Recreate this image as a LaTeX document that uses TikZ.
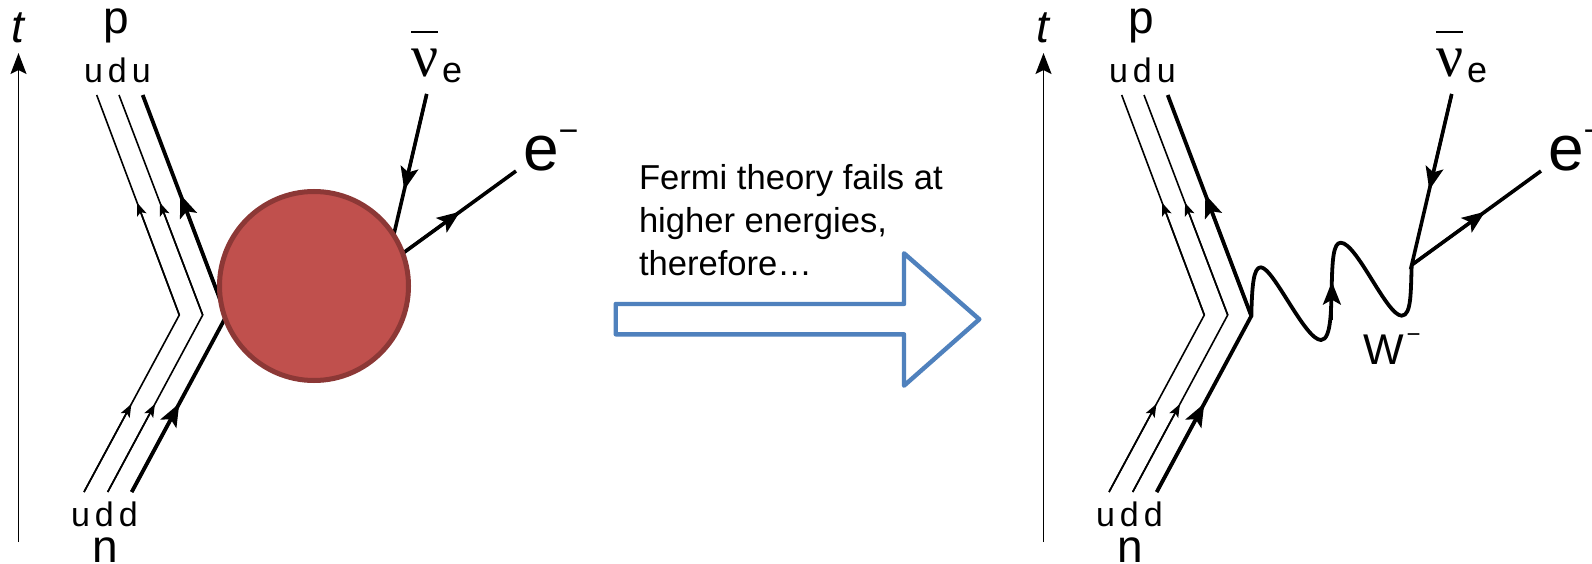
\documentclass[tikz,border=0pt]{standalone}
\usepackage{fontspec}
\setmainfont{Liberation Sans}
\newfontfamily\serifnu{Liberation Serif}
\usetikzlibrary{arrows.meta,calc}
\newcommand{\fs}[1]{\fontsize{#1}{#1}\selectfont}
\newcommand{\supminus}[3]{\raisebox{#2pt}{\fs{#1}#3}}
\definecolor{blockblue}{HTML}{4F81BD}
\definecolor{blobfill}{HTML}{C0504D}
\definecolor{blobedge}{HTML}{8C3836}
\tikzset{
  x=1pt,y=-1pt,
  lbl/.style={inner sep=0pt,outer sep=0pt,anchor=base west,text=black},
  thinq/.style={line width=1.6pt,black},
  thickq/.style={line width=3.8pt,black},
  lep/.style={line width=3.6pt,black},
  tipS/.style={-{Stealth[length=13pt,width=10pt,inset=3pt]},line width=1.6pt,black},
  tipL/.style={-{Stealth[length=23pt,width=18pt,inset=5pt]},line width=3pt,black},
  tipA/.style={-{Stealth[length=21pt,width=16pt,inset=4pt]},line width=1.6pt,black},
}
\newcommand{\feynbase}{%
  \coordinate (tb) at (18.5,542);
  \coordinate (tt) at (18.5,53);
  \draw[tipA] (tb) -- (tt);
  \node[lbl] (tlabel) at (11.5,43) {\fs{46}\itshape t};
  \coordinate (a1) at (84,492);   \coordinate (k1) at (179.3,315); \coordinate (b1) at (96.7,95);
  \coordinate (a2) at (107.7,492);\coordinate (k2) at (202.7,315); \coordinate (b2) at (119,95);
  \coordinate (a3) at (131.7,492);\coordinate (k3) at (226.3,316); \coordinate (b3) at (142.7,95);
  \draw[thinq,line join=miter] (a1) -- (k1) -- (b1);
  \draw[thinq,line join=miter] (a2) -- (k2) -- (b2);
  \draw[thickq,line join=miter] (a3) -- (k3) -- (b3);
  \draw[tipS] (a1) -- ($(a1)!0.497!(k1)$);
  \draw[tipS] (a2) -- ($(a2)!0.497!(k2)$);
  \draw[tipL] (a3) -- ($(a3)!0.503!(k3)$);
  \draw[tipS] (k1) -- ($(k1)!0.51!(b1)$);
  \draw[tipS] (k2) -- ($(k2)!0.51!(b2)$);
  \draw[tipL] (k3) -- ($(k3)!0.55!(b3)$);
  \coordinate (vx) at (386.7,265);
  \coordinate (nutop) at (426.7,94);
  \coordinate (eend) at (516,171);
  \draw[lep] (nutop) -- (vx) -- (eend);
  \draw[tipL] (nutop) -- ($(nutop)!0.561!(vx)$);
  \draw[tipL] (vx) -- ($(vx)!0.567!(eend)$);
  \node[lbl] (plabel) at (103,33.5) {\fs{46}p};
  \node[lbl] (nlabel) at (92.5,562) {\fs{46}n};
  \node[lbl] (udu) at (84,83) {\fs{34}u\kern5pt d\kern5pt u};
  \node[lbl] (udd) at (71,526.7) {\fs{34}u\kern5pt d\kern5pt d};
  \node[lbl] (nulabel) at (411,76.5) {\rlap{\raisebox{43pt}{\rule{27pt}{2pt}}}{\fs{60}\serifnu ν}\raisebox{-6.5pt}{\fs{36}\kern4pt e}};
  \node[lbl] (elabel) at (523,171) {\fs{64}e\supminus{34}{28}{−}};
}
\begin{document}
\begin{tikzpicture}
  \path[use as bounding box,fill=white] (0,0) rectangle (1592,564);
  \clip (0,0) rectangle (1592,564);
  \begin{scope}[name prefix=L-]
    \feynbase
  \end{scope}
  \node[circle,minimum size=189pt,inner sep=0pt,draw=blobedge,fill=blobfill,line width=5pt] (blob) at (314,286) {};
  \begin{scope}[shift={(1025,0)},name prefix=R-]
    \feynbase
  \end{scope}
  \draw[line width=3.8pt,black,line join=round]
    (R-k3) .. controls (1252,286.7) and (1253.3,267.3) .. (1260.7,267.3)
    .. controls (1273.3,267.3) and (1305,340) .. (1321,340)
    .. controls (1331.7,340) and (1331,306.7) .. (1331.7,286.7)
    .. controls (1332.3,260) and (1333.3,242.7) .. (1340.7,242.7)
    .. controls (1356.7,242.7) and (1386.7,315.7) .. (1401.7,315.7)
    .. controls (1411.7,315.7) and (1410.7,290) .. (R-vx);
  \coordinate (wtail) at (1331.9,320);
  \coordinate (wtip) at (1331.9,281.7);
  \draw[tipL] (wtail) -- (wtip);
  \node[lbl] (wlabel) at (1363,364) {\fs{43}W\kern3pt\supminus{24}{22}{−}};
  \draw[blockblue,line width=4.4pt,line join=round,fill=white]
    (615.7,304) -- (904,304) -- (904,253.3) -- (979.3,319.3) -- (904,385.7) -- (904,334.3) -- (615.7,334.3) -- cycle;
  \node[inner sep=0pt,outer sep=0pt,anchor=north west,align=left,font=\fontsize{34.6}{43}\selectfont] (caption) at (639,164)
    {Fermi theory fails at\\higher energies,\\therefore…};
\end{tikzpicture}
\end{document}
